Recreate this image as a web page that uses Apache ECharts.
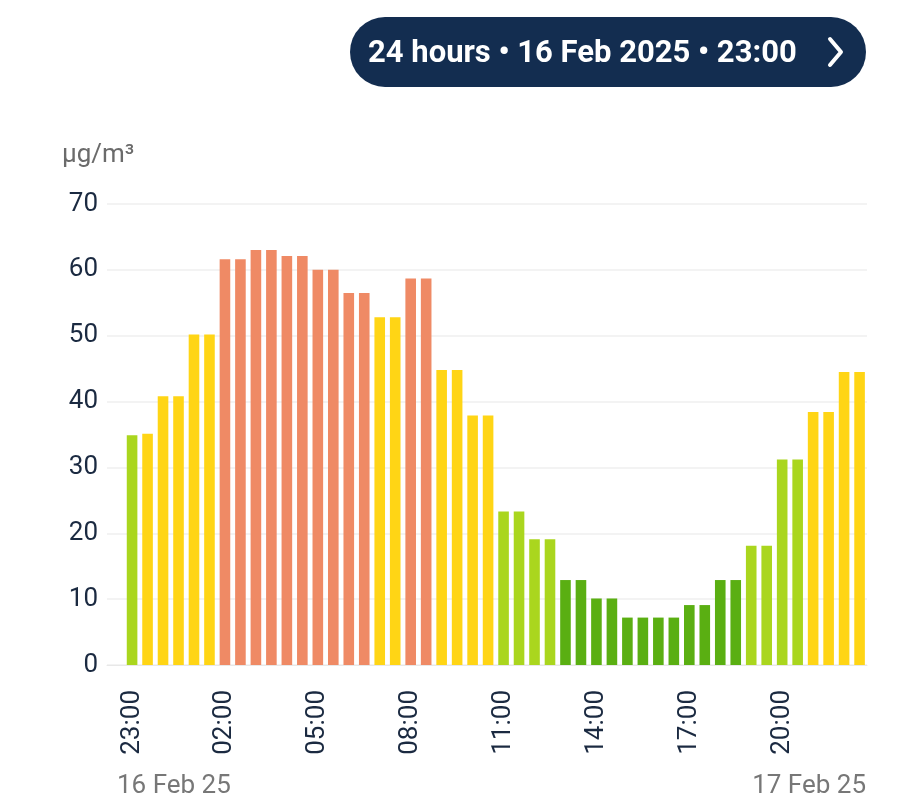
<!DOCTYPE html>
<html>
<head>
<meta charset="utf-8">
<script src="https://cdn.jsdelivr.net/npm/echarts@6/dist/echarts.min.js"></script>
<style>
html,body{margin:0;padding:0;background:#fff;}
#chart{width:919px;height:800px;}
</style>
</head>
<body>
<div id="chart"></div>
<script>
// Half-hourly PM values (µg/m³), 48 bars from 23:00 on 16 Feb 2025
const values = [
  34.9, 35.1, 40.8, 40.8, 50.2, 50.2, 61.6, 61.6, 63.0, 63.0, 62.1, 62.1,
  60.0, 60.0, 56.5, 56.5, 52.8, 52.8, 58.7, 58.7, 44.8, 44.8, 37.9, 37.9,
  23.3, 23.3, 19.1, 19.1, 12.9, 12.9, 10.1, 10.1, 7.2, 7.2, 7.2, 7.2,
  9.1, 9.1, 12.9, 12.9, 18.1, 18.1, 31.2, 31.2, 38.4, 38.4, 44.5, 44.5
];
const tickPositions = [0, 6, 12, 18, 24, 30, 36, 42];
const tickLabels = ["23:00", "02:00", "05:00", "08:00", "11:00", "14:00", "17:00", "20:00"];
const dateLabels = ["16 Feb 25", "17 Feb 25"];
const yTicks = [0, 10, 20, 30, 40, 50, 60, 70];
const titleText = "24 hours • 16 Feb 2025 • 23:00";
const unitText = "µg/m³";

const COLORS = { darkGreen: "#5AAF12", lightGreen: "#AAD61E", yellow: "#FFD515", orange: "#EF8A65" };
const FONT = "Roboto, 'Noto Sans', sans-serif";

const chart = echarts.init(document.getElementById('chart'), null, { renderer: 'canvas' });
chart.setOption({
  animation: false,
  backgroundColor: '#ffffff',
  grid: { left: 107, right: 52, top: 204, bottom: 135, containLabel: false },
  xAxis: {
    type: 'value',
    min: -1.62,
    max: 47.48,
    splitLine: { show: false },
    axisTick: { show: false },
    axisLine: { show: true, lineStyle: { color: '#e8e8e8', width: 1 } },
    axisLabel: {
      customValues: tickPositions,
      rotate: 90,
      margin: 25,
      fontSize: 26,
      fontFamily: FONT,
      color: '#1b2a41',
      formatter: function (v) {
        const k = tickPositions.indexOf(Math.round(v));
        return k >= 0 ? tickLabels[k] : '';
      }
    }
  },
  yAxis: {
    type: 'value',
    min: yTicks[0],
    max: yTicks[yTicks.length - 1],
    interval: 10,
    axisLine: { show: false },
    axisTick: { show: false },
    splitLine: { show: true, lineStyle: { color: '#efefef', width: 1.5 } },
    axisLabel: { fontSize: 26, fontFamily: FONT, color: '#1b2a41', margin: 9 }
  },
  visualMap: {
    type: 'piecewise',
    show: false,
    seriesIndex: 0,
    dimension: 1,
    pieces: [
      { lt: 15, color: COLORS.darkGreen },
      { gte: 15, lt: 35, color: COLORS.lightGreen },
      { gte: 35, lt: 55, color: COLORS.yellow },
      { gte: 55, color: COLORS.orange }
    ]
  },
  series: [{
    type: 'bar',
    barWidth: 10.6,
    data: values.map((v, i) => [i, v])
  }],
  graphic: [
    {
      type: 'rect', left: 350, top: 17, z: 10,
      shape: { width: 516, height: 70, r: 35 },
      style: { fill: '#132d50' }
    },
    {
      type: 'text', left: 368, top: 39, z: 11,
      style: { text: titleText, fill: '#ffffff', font: 'bold 31px ' + FONT }
    },
    {
      type: 'polyline', z: 11,
      shape: { points: [[830, 39], [841, 52], [830, 65]] },
      style: { stroke: '#ffffff', lineWidth: 4, fill: null, lineCap: 'round', lineJoin: 'round' }
    },
    {
      type: 'text', left: 62, top: 142,
      style: { text: unitText, fill: '#6b6b6b', font: '26px ' + FONT }
    },
    {
      type: 'text', left: 117, top: 773,
      style: { text: dateLabels[0], fill: '#777777', font: '26px ' + FONT }
    },
    {
      type: 'text', right: 53, top: 773,
      style: { text: dateLabels[1], fill: '#777777', font: '26px ' + FONT }
    }
  ]
});
</script>
</body>
</html>
